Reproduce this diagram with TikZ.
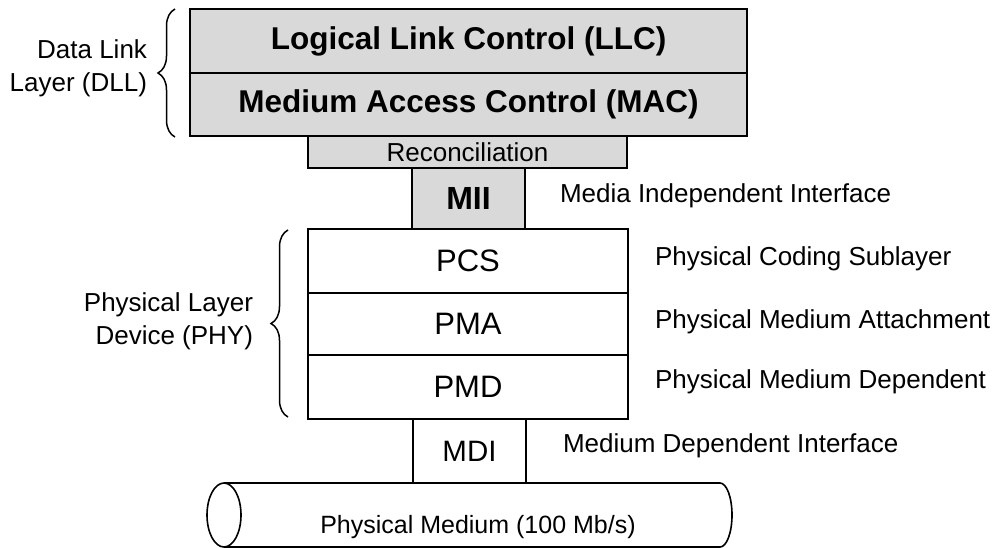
\documentclass[tikz,border=0pt]{standalone}
\usepackage{fontspec}
\setmainfont{Liberation Sans}
\usetikzlibrary{decorations.pathreplacing}
\begin{document}
\begin{tikzpicture}[x=1pt,y=-1pt,
  layerbox/.style={draw, line width=1.6pt, inner sep=0pt, outer sep=0pt},
  shaded/.style={fill=black!15},
  boldtxt/.style={font=\fontsize{31.5}{36}\selectfont\bfseries},
  boxtxt/.style={font=\fontsize{31}{36}\selectfont},
  lbl/.style={font=\fontsize{26}{33}\selectfont, inner sep=0pt, outer sep=0pt},
  curly/.style={decorate, decoration={brace, amplitude=17pt}, line width=1.5pt}]
  \useasboundingbox (0,0) rectangle (1008,547);

  % Data link layer
  \node[layerbox, shaded, boldtxt, minimum width=557pt, minimum height=64pt]
    (llc) at (468.5,41) {Logical Link Control (LLC)};
  \node[layerbox, shaded, boldtxt, minimum width=557pt, minimum height=63pt]
    (mac) at (468.5,104.5) {Medium Access Control (MAC)};
  \node[layerbox, shaded, lbl, minimum width=319pt, minimum height=32pt]
    (rec) at (467.5,152) {Reconciliation};
  \node[layerbox, shaded, font=\fontsize{32}{36}\selectfont\bfseries,
    minimum width=113pt, minimum height=61pt]
    (mii) at (468.5,198.5) {MII};

  % Physical layer device
  \node[layerbox, boxtxt, minimum width=320pt, minimum height=64pt]
    (pcs) at (468,261) {PCS};
  \node[layerbox, boxtxt, minimum width=320pt, minimum height=62pt]
    (pma) at (468,324) {PMA};
  \node[layerbox, boxtxt, minimum width=320pt, minimum height=64pt]
    (pmd) at (468,387) {PMD};
  \node[layerbox, font=\fontsize{29.5}{36}\selectfont,
    minimum width=113pt, minimum height=64pt]
    (mdi) at (469.5,451) {MDI};

  % Cable
  \draw[line width=1.6pt] (224,483) -- (720,483)
    arc[start angle=-90, end angle=90, x radius=12, y radius=32]
    -- (224,547);
  \draw[line width=1.6pt] (224,515) ellipse[x radius=17, y radius=32];
  \node[lbl, anchor=base, font=\fontsize{25}{30}\selectfont]
    (medium) at (478,533) {Physical Medium (100 Mb/s)};

  % Left labels with braces
  \coordinate (dlltop) at (175,9);
  \coordinate (dllbot) at (175,137);
  \draw[curly] (dllbot) -- (dlltop);
  \node[lbl, anchor=base east] (dll1) at (147,58) {Data Link};
  \node[lbl, anchor=base east] (dll2) at (147,91) {Layer (DLL)};

  \coordinate (phytop) at (288,230);
  \coordinate (phybot) at (288,417);
  \draw[curly] (phybot) -- (phytop);
  \node[lbl, anchor=base east] (phy1) at (253,311) {Physical Layer};
  \node[lbl, anchor=base east] (phy2) at (253,344) {Device (PHY)};

  % Right labels
  \node[lbl, anchor=base west] (miitxt) at (560,202) {Media Independent Interface};
  \node[lbl, anchor=base west] (pcstxt) at (655,265) {Physical Coding Sublayer};
  \node[lbl, anchor=base west] (pmatxt) at (655,328) {Physical Medium Attachment};
  \node[lbl, anchor=base west] (pmdtxt) at (655,388) {Physical Medium Dependent};
  \node[lbl, anchor=base west] (mditxt) at (563,452) {Medium Dependent Interface};
\end{tikzpicture}
\end{document}
